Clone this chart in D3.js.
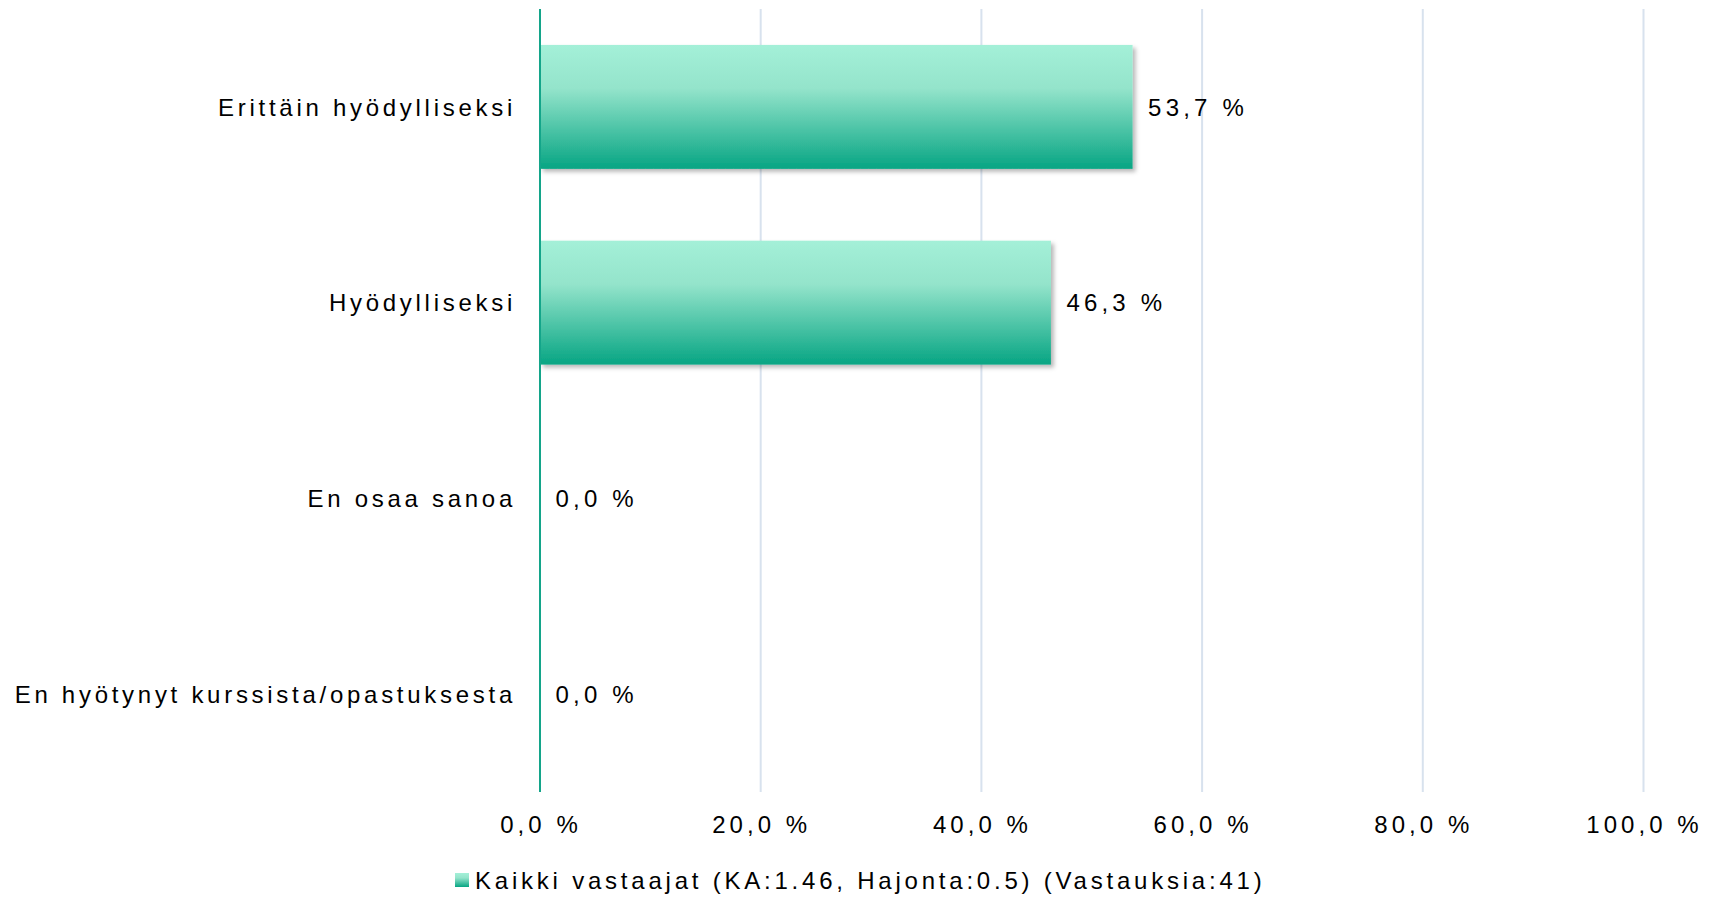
<!DOCTYPE html>
<html><head><meta charset="utf-8">
<script src="https://cdn.jsdelivr.net/npm/d3@7"></script>
<style>
html,body{margin:0;padding:0;background:#fff;}
text{font-family:"Liberation Sans",Arial,sans-serif;fill:#000;}
</style></head>
<body><svg id="c" width="1715" height="897"></svg>
<script>
const categories = ["Erittäin hyödylliseksi", "Hyödylliseksi", "En osaa sanoa", "En hyötynyt kurssista/opastuksesta"];
const values = [53.7, 46.3, 0.0, 0.0];
const tickValues = [0, 20, 40, 60, 80, 100];
const seriesName = "Kaikki vastaajat (KA:1.46, Hajonta:0.5) (Vastauksia:41)";

(function () {
const svg = d3.select("#c");
const pL = 540, pR = 1643.5, pT = 9, pB = 792;
const x = d3.scaleLinear().domain([0, 100]).range([pL, pR]);
const y = d3.scaleBand().domain(categories).range([pT, pB]).paddingInner(0.367).paddingOuter(0.1835);

const defs = svg.append("defs");
const g = defs.append("linearGradient").attr("id", "bg").attr("x1", 0).attr("y1", 0).attr("x2", 0).attr("y2", 1);
g.append("stop").attr("offset", "0%").attr("stop-color", "#A4F0D8");
g.append("stop").attr("offset", "35%").attr("stop-color", "#94E4CB");
g.append("stop").attr("offset", "100%").attr("stop-color", "#07A583");
const f = defs.append("filter").attr("id", "sh").attr("x", "-5%").attr("y", "-20%").attr("width", "115%").attr("height", "150%");
f.append("feDropShadow").attr("dx", 3).attr("dy", 3).attr("stdDeviation", 2.2).attr("flood-color", "#000").attr("flood-opacity", 0.28);

svg.append("g").selectAll("line").data(tickValues.slice(1)).join("line")
  .attr("x1", d => x(d)).attr("x2", d => x(d)).attr("y1", pT).attr("y2", pB)
  .attr("stroke", "#D8E2EE").attr("stroke-width", 2);

svg.append("g").selectAll("rect").data(values).join("rect")
  .attr("x", x(0)).attr("y", (d, i) => y(categories[i]))
  .attr("width", d => x(d) - x(0)).attr("height", y.bandwidth())
  .attr("fill", "url(#bg)").attr("filter", "url(#sh)");

svg.append("line").attr("x1", x(0)).attr("x2", x(0)).attr("y1", pT).attr("y2", pB)
  .attr("stroke", "#14A58A").attr("stroke-width", 2);

const fmt = v => d3.format(".1f")(v).replace(".", ",") + " %";

svg.append("g").selectAll("text").data(values).join("text")
  .attr("x", d => x(d) + 15.5).attr("y", (d, i) => y(categories[i]) + y.bandwidth() / 2)
  .attr("dy", "0.36em").attr("font-size", 24).attr("letter-spacing", 4.2)
  .text(d => fmt(d));

svg.append("g").selectAll("text").data(categories).join("text")
  .attr("x", 516).attr("y", d => y(d) + y.bandwidth() / 2)
  .attr("dy", "0.36em").attr("text-anchor", "end").attr("font-size", 24).attr("letter-spacing", 3.72)
  .text(d => d);

svg.append("g").selectAll("text").data(tickValues).join("text")
  .attr("x", d => x(d) + 1).attr("y", 832.5).attr("text-anchor", "middle")
  .attr("font-size", 24).attr("letter-spacing", 4.05)
  .text(d => fmt(d));

svg.append("rect").attr("x", 455).attr("y", 873).attr("width", 14).attr("height", 14).attr("fill", "url(#bg)");
svg.append("text").attr("x", 475).attr("y", 889).attr("font-size", 24).attr("letter-spacing", 3.78)
  .text(seriesName);
})();
</script></body></html>
